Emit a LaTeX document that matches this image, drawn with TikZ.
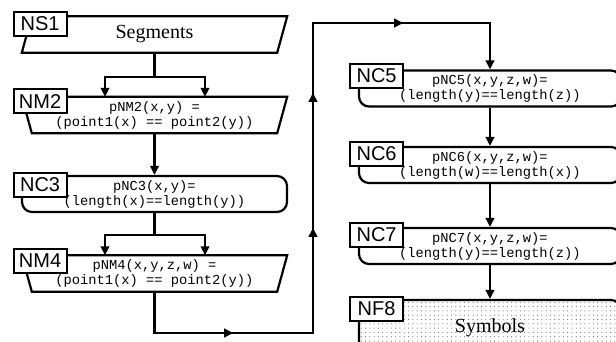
\documentclass[tikz,border=0pt]{standalone}
\usepackage{fontspec}
\setmainfont{Liberation Serif}
\newfontfamily\codefont{Liberation Mono}
\newfontfamily\lblfont{Liberation Sans}
\usetikzlibrary{arrows.meta,decorations.markings,patterns.meta}
\begin{document}
\begin{tikzpicture}[x=1pt,y=-1pt,
  ln/.style={line width=2.2pt},
  tip/.style={-{Triangle[length=9pt,width=8.5pt]}},
  body/.style={inner sep=0pt, minimum height=36pt, align=center},
  leftcol/.style={body, minimum width=265pt},
  rightcol/.style={body, minimum width=262pt},
  code/.style={font=\codefont\fontsize{13.75}{15}\selectfont},
  serif/.style={font=\fontsize{20}{22}\selectfont},
  roundbox/.style={draw, ln, rounded corners=10pt},
  lbl/.style={draw, fill=white, line width=2.2pt, font=\lblfont\fontsize{20}{22}\selectfont,
    minimum width=53pt, minimum height=24pt, inner sep=0pt, anchor=north west},
  midtip/.style={postaction={decorate}, decoration={markings,
    mark=at position 120pt with {\arrow{Triangle[length=9pt,width=8.5pt]}},
    mark=at position 305pt with {\arrow{Triangle[length=9pt,width=8.5pt]}},
    mark=at position 440pt with {\arrow{Triangle[length=9pt,width=8.5pt]}},
    mark=at position 600pt with {\arrow{Triangle[length=9pt,width=8.5pt]}}}},
]
\useasboundingbox (0,0) rectangle (616,341);
\clip (0,0) rectangle (616,341);

% left column
\node[leftcol, serif] (ns1) at (154.5,34.5) {Segments};
\node[leftcol, code] (nm2) at (154.5,115) {pNM2(x,y) =\\(point1(x) == point2(y))};
\node[leftcol, code, roundbox] (nc3) at (154.5,194) {pNC3(x,y)=\\(length(x)==length(y))};
\node[leftcol, code] (nm4) at (154.5,273.5) {pNM4(x,y,z,w) =\\(point1(x) == point2(y))};

% right column
\node[rightcol, code, roundbox] (nc5) at (490,88.5) {pNC5(x,y,z,w)=\\(length(y)==length(z))};
\node[rightcol, code, roundbox] (nc6) at (490,165) {pNC6(x,y,z,w)=\\(length(w)==length(x))};
\node[rightcol, code, roundbox] (nc7) at (490,246) {pNC7(x,y,z,w)=\\(length(y)==length(z))};
\node[rightcol, serif, roundbox, minimum height=56pt,
  pattern={Dots[distance=4.3pt, radius=0.55pt]}, pattern color=black!60] (nf8) at (490,328) {Symbols};

% custom outlines
\draw[ln] ([xshift=10pt]ns1.north west) -- (ns1.north east) -- ([xshift=-10pt]ns1.south east) -- (ns1.south west) -- cycle;
\draw[ln] (nm2.north west) -- (nm2.north east) -- ([xshift=-10pt]nm2.south east) -- ([xshift=10pt]nm2.south west) -- cycle;
\draw[ln] (nm4.north west) -- (nm4.north east) -- ([xshift=-10pt]nm4.south east) -- ([xshift=10pt]nm4.south west) -- cycle;

% labels
\node[lbl] (l1) at (12.5,11) {NS1};
\node[lbl] (l2) at (12.5,88) {NM2};
\node[lbl] (l3) at (12.5,172) {NC3};
\node[lbl] (l4) at (12.5,248) {NM4};
\node[lbl] (l5) at (349,63) {NC5};
\node[lbl] (l6) at (349,141) {NC6};
\node[lbl] (l7) at (349,222) {NC7};
\node[lbl] (l8) at (349,296) {NF8};

% connectors
\coordinate (f1) at (154.5,77);
\draw[ln] (ns1.south) -- (f1);
\draw[ln, tip] (f1) -| ([xshift=-49.5pt]nm2.north);
\draw[ln, tip] (f1) -| ([xshift=50.5pt]nm2.north);
\draw[ln, tip] (nm2.south) -- (nc3.north);
\coordinate (f2) at (154.5,235);
\draw[ln] (nc3.south) -- (f2);
\draw[ln, tip] (f2) -| ([xshift=-49.5pt]nm4.north);
\draw[ln, tip] (f2) -| ([xshift=50.5pt]nm4.north);

\coordinate (b1) at (154.5,333);
\coordinate (b2) at (313,333);
\coordinate (b3) at (313,23);
\coordinate (b4) at (490,23);
\draw[ln, tip, midtip] (nm4.south) -- (b1) -- (b2) -- (b3) -- (b4) -- (nc5.north);

\draw[ln, tip] (nc5.south) -- (nc6.north);
\draw[ln, tip] (nc6.south) -- (nc7.north);
\draw[ln, tip] (nc7.south) -- (nf8.north);
\end{tikzpicture}
\end{document}
